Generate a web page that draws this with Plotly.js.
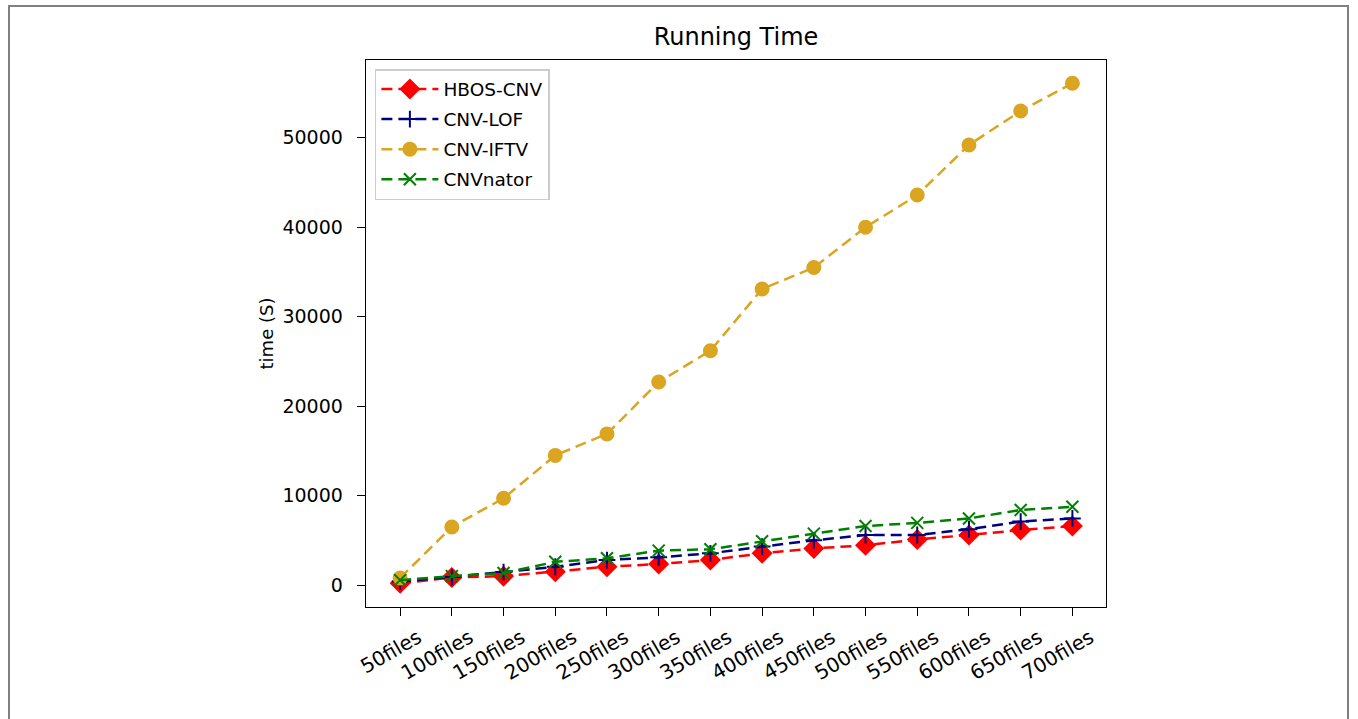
<!DOCTYPE html>
<html><head><meta charset="utf-8">
<script src="https://cdn.plot.ly/plotly-3.0.1.min.js"></script>
<style>
html,body{margin:0;padding:0;background:#fff;}
#frame{position:absolute;left:8px;top:5px;width:1341px;height:720px;border:2px solid #808080;border-bottom:none;box-sizing:border-box;}
#chart{position:absolute;left:0;top:0;width:1358px;height:719px;}
</style></head>
<body>
<div id="chart"></div>
<div id="frame"></div>
<script>
const categories = ["50files","100files","150files","200files","250files","300files","350files","400files","450files","500files","550files","600files","650files","700files"];
const hbosCnv  = [200, 850, 1000, 1500, 2050, 2350, 2800, 3550, 4100, 4450, 5100, 5600, 6150, 6600];
const cnvLof   = [400, 900, 1450, 2050, 2800, 3100, 3550, 4300, 5000, 5600, 5600, 6250, 7100, 7450];
const cnvIftv  = [800, 6500, 9700, 14500, 16900, 22700, 26200, 33100, 35500, 40000, 43600, 49200, 53000, 56100];
const cnvnator = [550, 1000, 1350, 2600, 3000, 3850, 4000, 4900, 5750, 6600, 6950, 7450, 8400, 8750];

const font = "DejaVu Sans, sans-serif";
function tr(name, y, color, symbol, size, grp){
  return {x: categories, y: y, name: name, type: "scatter", mode: "lines+markers",
    legendgroup: grp,
    line: {color: color, dash: "11px,6px", width: 2.5},
    marker: {symbol: symbol, size: size, color: color, line: {color: color, width: 2}}};
}
const data = [
  tr("HBOS-CNV", hbosCnv, "#ff0000", "diamond", 14, "g1"),
  tr("CNV-LOF", cnvLof, "#000080", "cross-thin-open", 12, "g2"),
  tr("CNV-IFTV", cnvIftv, "#DAA520", "circle", 13, "g3"),
  tr("CNVnator", cnvnator, "#008000", "x-thin-open", 12, "g4")
];
const layout = {
  width: 1358, height: 719,
  margin: {l: 366, r: 252, t: 60, b: 112},
  paper_bgcolor: "#fff", plot_bgcolor: "#fff",
  font: {family: font, size: 18, color: "#000"},
  title: {text: "Running Time", xref: "paper", x: 0.5, xanchor: "center", y: 0.9485, yanchor: "middle", font: {family: font, size: 24, color: "#000"}},
  xaxis: {
    type: "category", range: [-0.66, 13.65], showgrid: false, zeroline: false,
    showline: true, linecolor: "#000", linewidth: 1.3, mirror: true,
    ticks: "outside", ticklen: 8, tickcolor: "#000", tickangle: -30,
    ticklabelshift: 18, ticklabelstandoff: 2,
    tickfont: {family: font, size: 20, color: "#000"}
  },
  yaxis: {
    range: [-2450, 58700], showgrid: false, zeroline: false,
    showline: true, linecolor: "#000", linewidth: 1.3, mirror: true,
    ticks: "outside", ticklen: 8, tickcolor: "#000", ticklabelstandoff: 10,
    tickvals: [0,10000,20000,30000,40000,50000], ticktext: ["0","10000","20000","30000","40000","50000"],
    tickfont: {family: font, size: 19, color: "#000"},
    title: {text: "time (S)", standoff: 4, font: {family: font, size: 18, color: "#000"}}
  },
  legend: {x: 0.012, y: 0.9835, xanchor: "left", yanchor: "top",
    bgcolor: "#fff", bordercolor: "#cccccc", borderwidth: 1.5,
    font: {family: font, size: 18.5, color: "#000"}, tracegroupgap: 3, itemwidth: 57},
  showlegend: true
};
Plotly.newPlot("chart", data, layout, {displayModeBar: false, staticPlot: true});
</script>
</body></html>
